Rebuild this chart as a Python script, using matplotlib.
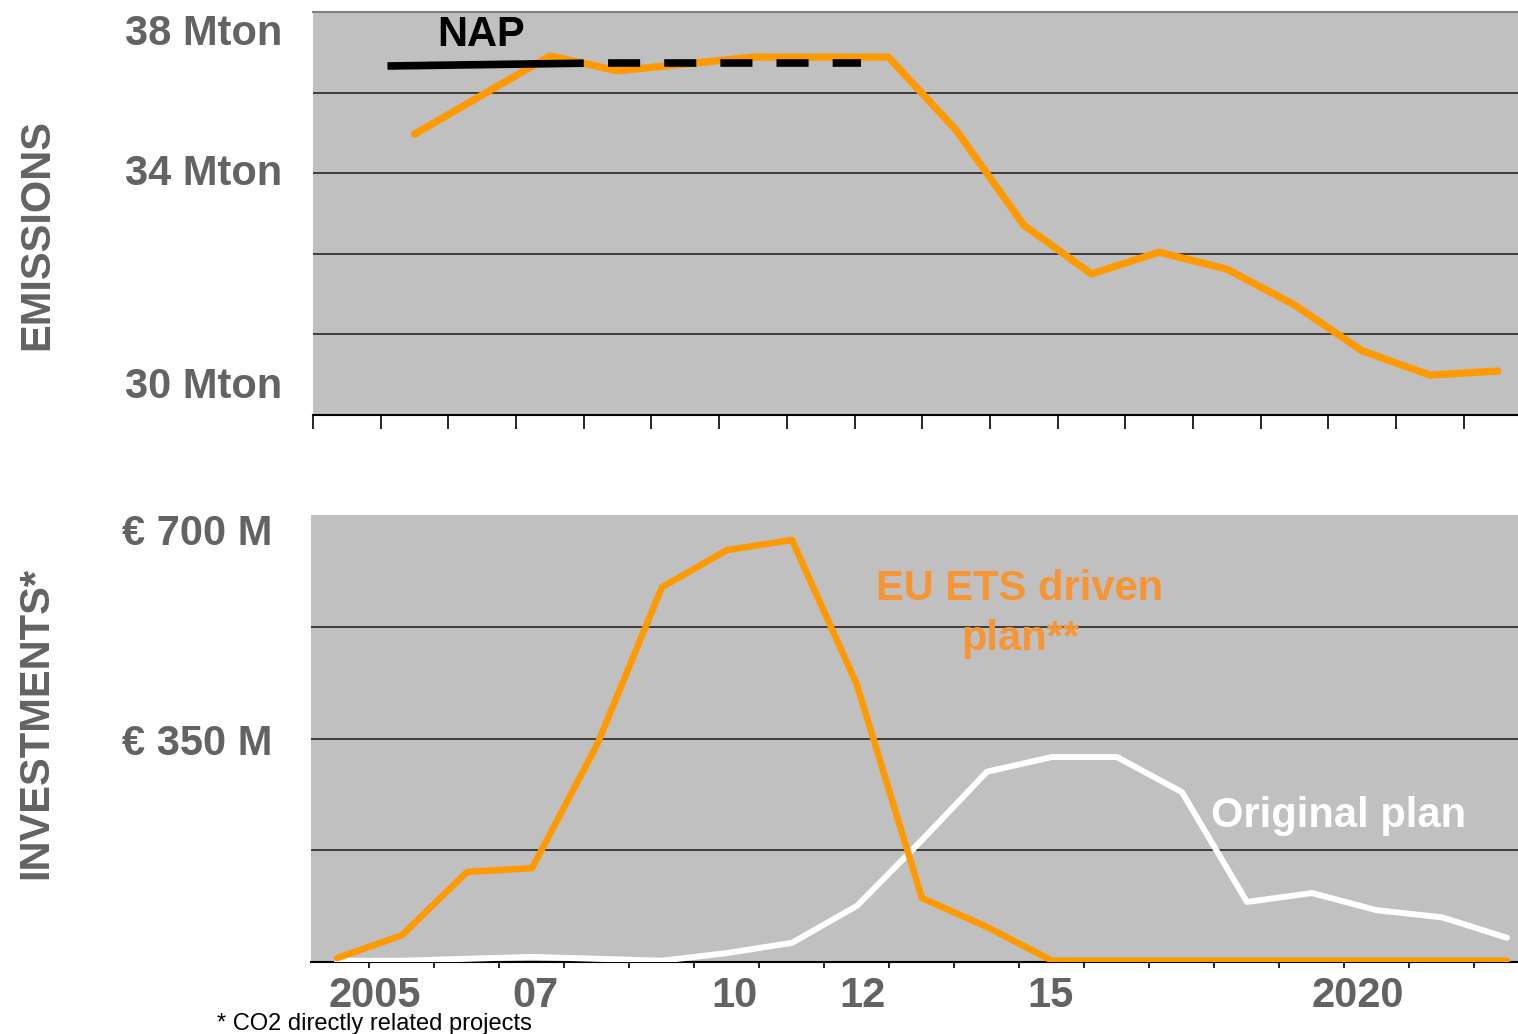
import matplotlib
matplotlib.use('Agg')
import matplotlib.pyplot as plt
import numpy as np

plt.rcParams['font.family'] = ['Liberation Sans', 'DejaVu Sans']

#-----------------DATA-----------------

# emissions (Mton), one point per year
years_emis = list(range(2005, 2022))
emissions = [35.97, 36.94, 37.91, 37.54, 37.71, 37.88, 37.88, 37.88, 36.07,
             33.71, 32.50, 33.04, 32.62, 31.73, 30.59, 29.99, 30.09]

# NAP allocation: solid part then dashed part
nap_years = [2004.6, 2007.5]
nap_values = [37.66, 37.73]
nap_dash_years = [2007.5, 2011.6]
nap_dash_values = [37.73, 37.73]

# investments (M euro)
years_inv = list(range(2004, 2023))
ets_plan = [6, 42, 141, 147, 340, 587, 645, 661, 434, 100, 55, 2,
            2, 2, 2, 2, 2, 2, 2]
original_plan = [2, 2, 5, 8, 5, 2, 14, 30, 88, 191, 298, 321, 321, 266,
                 94, 108, 81, 70, 38]

emis_labels = ['38 Mton', '34 Mton', '30 Mton']
inv_labels = ['€ 700 M', '€ 350 M']
year_labels = ['2005', '07', '10', '12', '15', '2020']

#-----------------LAYOUT (pixels)-----------------
W, H = 1518, 1034
emis_label_y = [45, 185, 398]
inv_label_y = [545, 755]
year_label_x = [375, 535, 735, 862, 1050, 1358]

ORANGE = '#FF9900'
TEXT_ORANGE = '#F79433'
GREY_TXT = '#636363'
BG = '#C0C0C0'


def fx(x):
    return x / W


def fy(y):
    return 1 - y / H


fig = plt.figure(figsize=(W / 100, H / 100), dpi=100)

#-----------------EMISSIONS PANEL-----------------
ax1 = fig.add_axes([fx(313), fy(415), 1205 / W, 403 / H])
ax1.set_facecolor(BG)
ax1.set_yticks([31, 33, 35, 37])
ax1.set_xticks(np.arange(2003.5, 2021, 1))
ax1.set_xlim(2003.5, 2021.3)
ax1.set_ylim(29, 39)
ax1.grid(axis='y', color='#262626', lw=1.2)
ax1.set_axisbelow(True)
ax1.tick_params(axis='y', length=0, labelleft=False)
ax1.tick_params(axis='x', direction='out', length=10, width=1.2,
                color='black', labelbottom=False)
for s in ['left', 'right']:
    ax1.spines[s].set_visible(False)
ax1.spines['top'].set_color('#808080')
ax1.spines['top'].set_linewidth(1.5)
ax1.spines['bottom'].set_color('black')
ax1.spines['bottom'].set_linewidth(1.5)

ax1.plot(years_emis, emissions, color=ORANGE, lw=5.2,
         solid_capstyle='round', solid_joinstyle='round', zorder=3)
ax1.plot(nap_years, nap_values, color='black', lw=5.5,
         solid_capstyle='butt', zorder=4)
ax1.plot(nap_dash_years, nap_dash_values, color='black', lw=5.5,
         linestyle=(4.2, (4.2, 3.15)), dash_capstyle='butt', zorder=4)
fig.text(fx(481), fy(46), 'NAP', fontsize=30, fontweight='bold',
         color='black', ha='center', va='baseline')

#-----------------INVESTMENTS PANEL-----------------
ax2 = fig.add_axes([fx(311), fy(962), 1207 / W, 447 / H])
ax2.set_facecolor(BG)
ax2.set_yticks([175, 350, 525])
ax2.set_xticks(np.arange(2004.5, 2022, 1))
ax2.set_xlim(2003.6, 2022.17)
ax2.set_ylim(0, 700)
ax2.grid(axis='y', color='#262626', lw=1.2)
ax2.set_axisbelow(True)
ax2.tick_params(axis='y', length=0, labelleft=False)
ax2.tick_params(axis='x', direction='out', length=4, width=1.2,
                color='black', labelbottom=False)
for s in ['left', 'right', 'top']:
    ax2.spines[s].set_visible(False)
ax2.spines['bottom'].set_color('black')
ax2.spines['bottom'].set_linewidth(1.5)

ax2.plot(years_inv, original_plan, color='white', lw=4.3,
         solid_capstyle='round', zorder=3)
ax2.plot(years_inv, ets_plan, color=ORANGE, lw=4.7,
         solid_capstyle='round', zorder=4)

fig.text(fx(1020), fy(600), 'EU ETS driven', fontsize=30,
         fontweight='bold', color=TEXT_ORANGE, ha='center', va='baseline')
fig.text(fx(1020), fy(650), 'plan**', fontsize=30,
         fontweight='bold', color=TEXT_ORANGE, ha='center', va='baseline')
fig.text(fx(1339), fy(827), 'Original plan', fontsize=30, fontweight='bold',
         color='white', ha='center', va='baseline')

#-----------------AXIS TEXTS-----------------
for lab, y in zip(emis_labels, emis_label_y):
    fig.text(fx(282), fy(y), lab, fontsize=30, fontweight='bold',
             color=GREY_TXT, ha='right', va='baseline')
for lab, y in zip(inv_labels, inv_label_y):
    fig.text(fx(272), fy(y), lab, fontsize=30, fontweight='bold',
             color=GREY_TXT, ha='right', va='baseline')
for lab, x in zip(year_labels, year_label_x):
    fig.text(fx(x), fy(1007), lab, fontsize=30, fontweight='bold',
             color=GREY_TXT, ha='center', va='baseline')

fig.text(fx(48), fy(234), 'EMISSIONS', fontsize=30, fontweight='bold',
         color=GREY_TXT, rotation=90, rotation_mode='anchor',
         ha='center', va='baseline')
fig.text(fx(47), fy(723), 'INVESTMENTS*', fontsize=30, fontweight='bold',
         color=GREY_TXT, rotation=90, rotation_mode='anchor',
         ha='center', va='baseline')

fig.text(fx(217), fy(1030), '* CO2 directly related projects', fontsize=17,
         color='black', ha='left', va='baseline')

fig.savefig('out.png', dpi=100)
